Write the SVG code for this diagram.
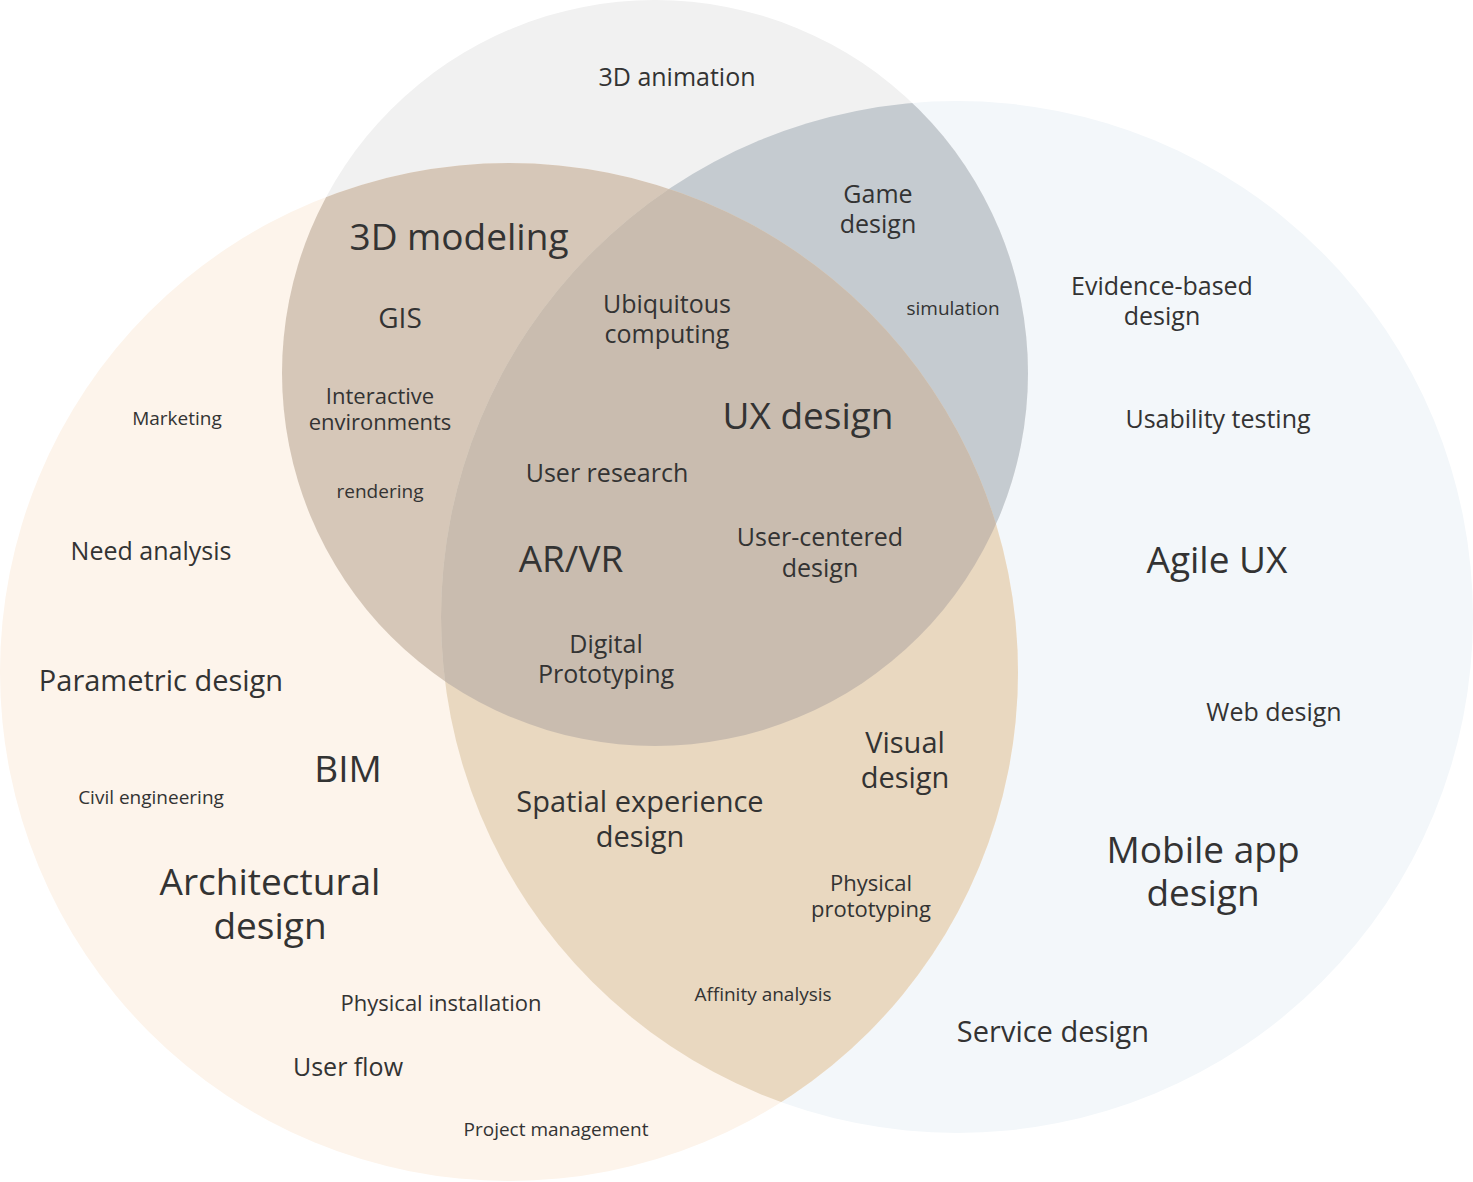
<svg xmlns="http://www.w3.org/2000/svg" width="1473" height="1182" viewBox="0 0 1473 1182">
<style>
text{font-family:"Open Sans","Liberation Sans",sans-serif;fill:#333;text-anchor:middle}
.s{font-size:19px}.m2{font-size:22px}.m{font-size:25px}.l{font-size:29px}.xl{font-size:37px}
</style>
<defs>
<clipPath id="cg"><circle cx="655" cy="373" r="373"/></clipPath>
<clipPath id="co"><circle cx="509" cy="672" r="509"/></clipPath>
<clipPath id="cb"><circle cx="957" cy="617" r="516"/></clipPath>
</defs>
<rect width="1473" height="1182" fill="#fff"/>
<g id="circles">
<g id="set-blue"><circle cx="957" cy="617" r="516" fill="#f3f7fa"/></g>
<g id="set-gray"><circle cx="655" cy="373" r="373" fill="#f1f1f1"/></g>
<g id="set-orange"><circle cx="509" cy="672" r="509" fill="#fdf4eb"/></g>
<g id="gray-orange" clip-path="url(#cg)"><circle cx="509" cy="672" r="509" fill="#d6c7b8"/></g>
<g id="gray-blue" clip-path="url(#cg)"><circle cx="957" cy="617" r="516" fill="#c5cbd0"/></g>
<g id="orange-blue" clip-path="url(#co)"><circle cx="957" cy="617" r="516" fill="#e9d8c0"/></g>
<g id="all-three" clip-path="url(#cg)"><g clip-path="url(#co)"><circle cx="957" cy="617" r="516" fill="#c9bcaf"/></g></g>
</g>
<g id="labels">
<g id="l-3danim"><text class="m" x="677" y="86">3D animation</text></g>
<g id="l-game"><text class="m" x="878" y="203">Game<tspan x="878" dy="30">design</tspan></text></g>
<g id="l-sim"><text class="s" x="953" y="315">simulation</text></g>
<g id="l-3dmod"><text class="xl" x="459" y="250">3D modeling</text></g>
<g id="l-gis"><text style="font-size:28px" x="400" y="328">GIS</text></g>
<g id="l-inter"><text class="m2" x="380" y="404">Interactive<tspan x="380" dy="26">environments</tspan></text></g>
<g id="l-render"><text class="s" x="380" y="498">rendering</text></g>
<g id="l-ubi"><text class="m" x="667" y="313">Ubiquitous<tspan x="667" dy="30">computing</tspan></text></g>
<g id="l-ux"><text class="xl" x="808" y="429">UX design</text></g>
<g id="l-ures"><text class="m" x="607" y="482">User research</text></g>
<g id="l-arvr"><text class="xl" x="571" y="572">AR/VR</text></g>
<g id="l-ucd"><text class="m" x="820" y="546">User-centered<tspan x="820" dy="31">design</tspan></text></g>
<g id="l-digi"><text class="m" x="606" y="653">Digital<tspan x="606" dy="30">Prototyping</tspan></text></g>
<g id="l-mkt"><text class="s" x="177" y="425">Marketing</text></g>
<g id="l-need"><text class="m" x="151" y="560">Need analysis</text></g>
<g id="l-param"><text class="l" x="161" y="691">Parametric design</text></g>
<g id="l-bim"><text class="xl" x="348" y="782">BIM</text></g>
<g id="l-civil"><text class="s" x="151" y="804">Civil engineering</text></g>
<g id="l-arch"><text class="xl" x="270" y="895">Architectural<tspan x="270" dy="44">design</tspan></text></g>
<g id="l-phinst"><text class="m2" x="441" y="1011">Physical installation</text></g>
<g id="l-flow"><text class="m" x="348" y="1076">User flow</text></g>
<g id="l-pm"><text class="s" x="556" y="1136">Project management</text></g>
<g id="l-spatial"><text class="l" x="640" y="812">Spatial experience<tspan x="640" dy="35">design</tspan></text></g>
<g id="l-visual"><text class="l" x="905" y="753">Visual<tspan x="905" dy="35">design</tspan></text></g>
<g id="l-phproto"><text class="m2" x="871" y="891">Physical<tspan x="871" dy="26">prototyping</tspan></text></g>
<g id="l-aff"><text class="s" x="763" y="1001">Affinity analysis</text></g>
<g id="l-evid"><text class="m" x="1162" y="295">Evidence-based<tspan x="1162" dy="30">design</tspan></text></g>
<g id="l-usab"><text class="m" x="1218" y="428">Usability testing</text></g>
<g id="l-agile"><text class="xl" x="1217" y="573">Agile UX</text></g>
<g id="l-web"><text class="m" x="1274" y="721">Web design</text></g>
<g id="l-mobile"><text class="xl" x="1203" y="863">Mobile app<tspan x="1203" dy="43">design</tspan></text></g>
<g id="l-service"><text class="l" x="1053" y="1042">Service design</text></g>
</g>
</svg>
